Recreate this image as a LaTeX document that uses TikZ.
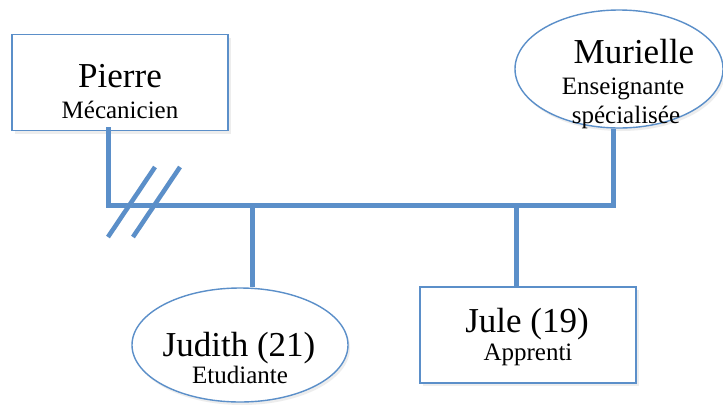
\documentclass[tikz,border=0pt]{standalone}
\usepackage{fontspec}
\setmainfont{Liberation Serif}
\usetikzlibrary{shapes.geometric}
\definecolor{famblue}{RGB}{91,143,201}
\begin{document}
\begin{tikzpicture}[x=1pt,y=-1pt,
  personbox/.style={draw=famblue,line width=1.6pt,rectangle,fill=white,inner sep=0pt},
  personoval/.style={draw=famblue,line width=1.4pt,ellipse,fill=white,inner sep=0pt},
  link/.style={draw=famblue,line width=5pt},
  linkshadow/.style={draw=black!25,line width=5pt,opacity=0.35},
  boxshadow/.style={fill=black!20,opacity=0.35,draw=none,inner sep=0pt},
  nametext/.style={font=\fontsize{35}{35}\selectfont,anchor=base,inner sep=0pt},
  roletext/.style={font=\fontsize{25}{25}\selectfont,anchor=base,inner sep=0pt}]
\useasboundingbox (0,0) rectangle (723,405);
\fill[white] (0,0) rectangle (723,405);

% junction points on the couple line
\coordinate (pj) at (108,205);
\coordinate (mj) at (613,205);
\coordinate (cj1) at (252,205);
\coordinate (cj2) at (516,205);

% soft shadows under the shapes
\node[boxshadow,rectangle,minimum width=216pt,minimum height=96pt] at (123,85.5) {};
\node[boxshadow,rectangle,minimum width=216pt,minimum height=96pt] at (531,338) {};
\node[boxshadow,ellipse,minimum width=208pt,minimum height=118pt] at (621,72) {};
\node[boxshadow,ellipse,minimum width=216pt,minimum height=114pt] at (242,348) {};

% people
\node[personbox,minimum width=216pt,minimum height=96pt] (pierre) at (120,82.5) {};
\node[personoval,minimum width=208pt,minimum height=118pt] (murielle) at (619,69) {};
\node[personoval,minimum width=216pt,minimum height=114pt] (judith) at (240,345) {};
\node[personbox,minimum width=216pt,minimum height=96pt] (jule) at (528,335) {};

% connector shadows
\begin{scope}[shift={(2.5,3)}]
\draw[linkshadow] ([yshift=4pt]pierre.south -| pj) -- (pj) -- (mj) -- (murielle.south -| mj);
\draw[linkshadow] (cj1) -- (judith.north -| cj1);
\draw[linkshadow] (cj2) -- (jule.north -| cj2);
\end{scope}

% couple line and children links
\draw[link,line join=miter] ([yshift=4pt]pierre.south -| pj) -- (pj) -- (mj) -- (murielle.south -| mj);
\draw[link] (cj1) -- (judith.north -| cj1);
\draw[link] (cj2) -- (jule.north -| cj2);

% divorce marks
\coordinate (d1a) at (108,237); \coordinate (d1b) at (155,167);
\coordinate (d2a) at (133,237); \coordinate (d2b) at (180,167);
\draw[linkshadow,line width=4.5pt,shift={(2.5,3)}] (d1a) -- (d1b);
\draw[linkshadow,line width=4.5pt,shift={(2.5,3)}] (d2a) -- (d2b);
\draw[link,line width=4.5pt] (d1a) -- (d1b);
\draw[link,line width=4.5pt] (d2a) -- (d2b);

% labels
\node[nametext] (pierre-name) at (120,87) {Pierre};
\node[roletext] (pierre-job) at (120,118) {Mécanicien};
\node[nametext] (murielle-name) at (634,63) {Murielle};
\node[roletext] (murielle-job1) at (623,94) {Enseignante};
\node[roletext] (murielle-job2) at (626,123) {spécialisée};
\node[nametext] (judith-name) at (239,356) {Judith (21)};
\node[roletext] (judith-job) at (240,383) {Etudiante};
\node[nametext] (jule-name) at (527,332) {Jule (19)};
\node[roletext] (jule-job) at (528,360) {Apprenti};
\end{tikzpicture}
\end{document}
